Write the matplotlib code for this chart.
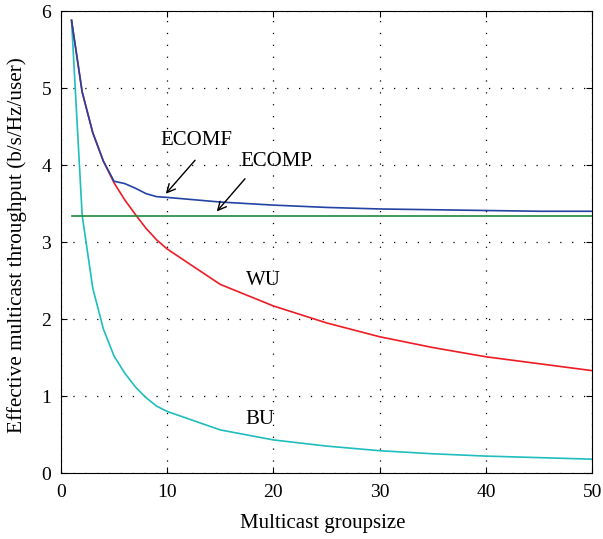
import matplotlib
matplotlib.use("Agg")
import matplotlib.pyplot as plt

# group sizes where the curves were sampled
gs_fine = [1, 2, 3, 4, 5, 6, 7, 8, 9, 10, 15, 20, 25, 30, 35, 40, 45, 50]

wu = [5.88, 4.95, 4.42, 4.05, 3.77, 3.55, 3.36, 3.18, 3.03, 2.91,
      2.45, 2.17, 1.95, 1.77, 1.63, 1.51, 1.42, 1.33]
bu = [5.88, 3.35, 2.40, 1.87, 1.52, 1.30, 1.12, 0.98, 0.87, 0.80,
      0.56, 0.43, 0.35, 0.29, 0.25, 0.22, 0.20, 0.18]
ecomf = [5.88, 4.95, 4.42, 4.05, 3.79, 3.76, 3.70, 3.63, 3.59, 3.58,
         3.52, 3.48, 3.45, 3.43, 3.42, 3.41, 3.40, 3.40]
ecomp = [3.34] * len(gs_fine)

plt.rcParams['font.family'] = ['Liberation Serif', 'DejaVu Serif']

fig = plt.figure(figsize=(6.03, 5.39), dpi=100)
ax = fig.add_axes([0.101, 0.1224, 0.881, 0.857])

ax.plot(gs_fine, bu, color='#1fbdbd', lw=1.2)
ax.plot(gs_fine, wu, color='#ee1c24', lw=1.2)
ax.plot(gs_fine, ecomp, color='#1e8a3c', lw=1.2)
ax.plot(gs_fine, ecomf, color='#2343a3', lw=1.2)

ax.set_xlim(0, 50)
ax.set_ylim(0, 6)
ax.set_xticks([0, 10, 20, 30, 40, 50])
ax.set_yticks([0, 1, 2, 3, 4, 5, 6])
ax.tick_params(direction='in', labelsize=14, length=4, top=True, right=True)
ax.tick_params(axis='x', pad=8)
ax.tick_params(axis='y', pad=7)
ax.grid(True, color='black', linestyle=(0, (1, 8.5)), linewidth=0.9)

ax.set_xlabel("Multicast groupsize", fontsize=15)
ax.set_ylabel("Effective multicast throughput (b/s/Hz/user)", fontsize=15.3)
ax.xaxis.set_label_coords(0.492, -0.089)
ax.yaxis.set_label_coords(-0.064, 0.494)

arrow = dict(arrowstyle='->', color='black', lw=1.0, mutation_scale=15)
ax.annotate("", xy=(9.7, 3.60), xytext=(12.8, 4.09), arrowprops=arrow)
ax.annotate("", xy=(14.5, 3.37), xytext=(17.5, 3.85), arrowprops=arrow)
ax.text(12.76, 4.32, "ECOMF", fontsize=15, ha='center', va='center')
ax.text(20.3, 4.04, "ECOMP", fontsize=15, ha='center', va='center')
ax.text(19.1, 2.50, "WU", fontsize=15, ha='center', va='center')
ax.text(18.7, 0.69, "BU", fontsize=15, ha='center', va='center')

fig.savefig("out.png", dpi=100)
